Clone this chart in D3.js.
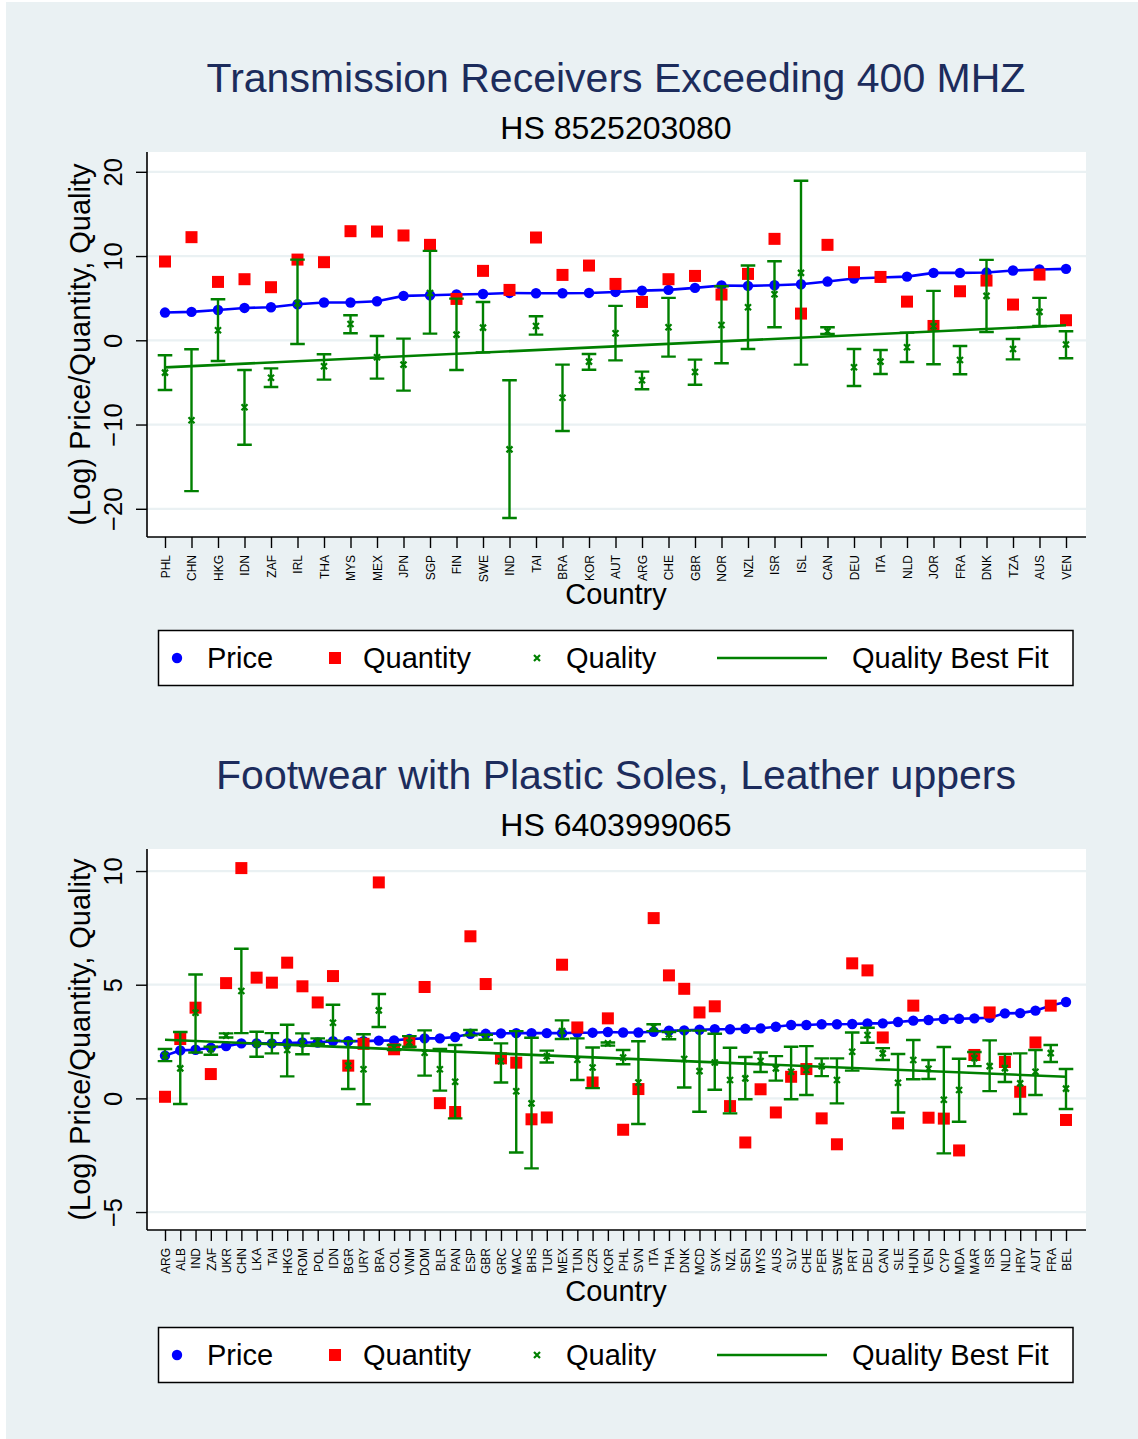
<!DOCTYPE html>
<html lang="en">
<head>
<meta charset="utf-8">
<title>Price, Quantity and Quality by Country</title>
<script src="https://cdnjs.cloudflare.com/ajax/libs/d3/7.8.5/d3.min.js"></script>
<style>
  body { margin: 0; background: #ffffff; }
  svg text { font-family: "Liberation Sans", Arial, sans-serif; }
</style>
</head>
<body>
<div id="chart"></div>
<script>

// ---- data: transmission receivers (HS 8525203080)
const topCountries = ["PHL","CHN","HKG","IDN","ZAF","IRL","THA","MYS","MEX","JPN","SGP","FIN","SWE","IND","TAI","BRA","KOR","AUT","ARG","CHE","GBR","NOR","NZL","ISR","ISL","CAN","DEU","ITA","NLD","JOR","FRA","DNK","TZA","AUS","VEN"];
const topPrice = [3.29,3.37,3.6,3.84,3.92,4.28,4.48,4.48,4.63,5.27,5.35,5.43,5.5,5.62,5.58,5.58,5.62,5.74,5.9,5.98,6.22,6.5,6.46,6.53,6.65,6.97,7.33,7.45,7.56,8.0,8.0,8.04,8.28,8.4,8.48];
const topQuantity = [9.35,12.24,6.93,7.25,6.3,9.58,9.27,12.95,12.91,12.44,11.33,4.91,8.24,5.98,12.2,7.76,8.87,6.69,4.55,7.25,7.64,5.43,7.88,12.04,3.17,11.33,8.08,7.52,4.59,1.7,5.82,7.09,4.24,7.8,2.38];
const topQuality = [-3.84,-9.5,1.19,-7.96,-4.44,4.4,-3.09,1.94,-2.02,-2.89,5.62,0.67,1.5,-12.95,1.7,-6.81,-2.53,0.83,-4.75,1.54,-3.76,1.82,3.92,5.47,8.0,1.07,-3.21,-2.53,-0.83,1.66,-2.34,5.27,-1.03,3.37,-0.51];
const topQualityHi = [-1.78,-1.07,4.87,-3.52,-3.33,9.58,-1.66,2.97,0.51,0.2,10.61,4.95,4.55,-4.75,2.85,-2.89,-1.62,4.08,-3.72,5.03,-2.3,6.42,8.87,9.39,18.93,1.54,-1.03,-1.15,0.91,5.86,-0.67,9.54,0.16,5.03,1.07];
const topQualityLo = [-5.9,-17.9,-2.46,-12.4,-5.54,-0.44,-4.67,0.83,-4.55,-5.98,0.79,-3.52,-1.43,-21.1,0.67,-10.77,-3.49,-2.38,-5.82,-1.94,-5.27,-2.73,-1.03,1.54,-2.89,0.75,-5.43,-4.0,-2.57,-2.85,-4.04,0.99,-2.26,1.7,-2.14];
const topFit = [-3.21, 1.78];
const topTicks = [20, 10, 0, -10, -20];

// ---- data: footwear (HS 6403999065)
const botCountries = ["ARG","ALB","IND","ZAF","UKR","CHN","LKA","TAI","HKG","ROM","POL","IDN","BGR","URY","BRA","COL","VNM","DOM","BLR","PAN","ESP","GBR","GRC","MAC","BHS","TUR","MEX","TUN","CZR","KOR","PHL","SVN","ITA","THA","DNK","MCD","SVK","NZL","SEN","MYS","AUS","SLV","CHE","PER","SWE","PRT","DEU","CAN","SLE","HUN","VEN","CYP","MDA","MAR","ISR","NLD","HRV","AUT","FRA","BEL"];
const botPrice = [1.88,2.11,2.14,2.23,2.3,2.42,2.42,2.42,2.43,2.46,2.46,2.52,2.52,2.52,2.54,2.55,2.61,2.64,2.64,2.7,2.84,2.84,2.86,2.87,2.87,2.87,2.87,2.89,2.89,2.92,2.9,2.9,2.93,2.98,2.99,3.02,3.04,3.04,3.06,3.08,3.15,3.23,3.23,3.26,3.26,3.27,3.3,3.3,3.36,3.42,3.45,3.49,3.5,3.52,3.55,3.74,3.75,3.86,4.09,4.24];
const botQuantity = [0.07,2.61,3.99,1.07,5.07,10.13,5.31,5.09,5.97,4.93,4.22,5.38,1.44,2.4,9.5,2.16,2.46,4.9,-0.21,-0.6,7.13,5.03,1.76,1.57,-0.92,-0.84,5.88,3.12,0.7,3.52,-1.38,0.41,7.93,5.41,4.82,3.78,4.05,-0.34,-1.94,0.4,-0.62,0.95,1.29,-0.88,-2.02,5.94,5.63,2.68,-1.1,4.08,-0.85,-0.89,-2.29,1.91,3.78,1.6,0.29,2.46,4.08,-0.95];
const botQuality = [1.88,1.32,3.77,2.16,2.76,4.72,2.39,2.43,2.13,2.42,2.51,3.33,1.44,1.28,3.87,2.24,2.46,2.01,1.28,0.73,2.89,2.71,1.63,0.31,-0.22,1.85,2.96,1.7,1.36,2.42,1.8,0.7,3.14,2.82,1.73,1.2,1.58,0.81,0.88,1.64,1.32,1.17,1.25,1.41,0.81,2.05,2.79,1.98,0.69,1.69,1.3,-0.06,0.37,1.77,1.42,1.33,0.66,1.17,1.99,0.43];
const botQualityHi = [2.17,2.92,5.45,2.27,2.86,6.58,2.93,2.87,3.24,2.86,2.64,4.12,2.52,2.82,4.59,2.35,2.74,2.99,2.17,2.35,3.01,2.8,2.42,2.96,2.67,2.1,3.43,2.64,2.24,2.46,2.13,2.51,3.26,2.92,2.98,2.98,2.84,2.23,1.82,2.02,1.86,2.27,2.3,1.76,1.76,2.9,3.11,2.21,1.95,2.57,1.69,2.26,1.74,2.04,2.55,1.95,1.98,2.13,2.35,1.29];
const botQualityLo = [1.64,-0.25,2.02,1.92,2.68,2.87,1.83,1.98,0.97,1.94,2.39,2.54,0.41,-0.26,3.14,2.13,2.27,1.0,0.34,-0.88,2.77,2.58,0.7,-2.38,-3.08,1.58,2.61,0.81,0.45,2.32,1.5,-1.13,2.96,2.6,0.48,-0.59,0.38,-0.66,-0.04,1.16,0.78,-0.04,0.15,0.98,-0.22,1.22,2.45,1.69,-0.62,0.84,0.85,-2.42,-1.03,1.42,0.32,0.72,-0.69,0.15,1.6,-0.47];
const botFit = [2.58, 0.95];
const botTicks = [10, 5, 0, -5];

const legendLabels = ["Price", "Quantity", "Quality", "Quality Best Fit"];

// colours
const blue = "#0000ff", red = "#ff0000", green = "#008000";
const bg = "#eaf1f3", navy = "#1c2c5c";

const W = 1138, H = 1439;
const svg = d3.select("#chart").append("svg")
  .attr("width", W).attr("height", H);

svg.append("rect").attr("x", 6).attr("y", 2)
  .attr("width", W - 6).attr("height", H - 2).attr("fill", bg);

const panels = [
  { title: "Transmission Receivers Exceeding 400 MHZ", sub: "HS 8525203080",
    countries: topCountries, price: topPrice, qty: topQuantity, qual: topQuality,
    hi: topQualityHi, lo: topQualityLo, fit: topFit, ticks: topTicks,
    yDomain: [-23.35, 22.35], top: 152, bottom: 537, offset: 0 },
  { title: "Footwear with Plastic Soles, Leather uppers", sub: "HS 6403999065",
    countries: botCountries, price: botPrice, qty: botQuantity, qual: botQuality,
    hi: botQualityHi, lo: botQualityLo, fit: botFit, ticks: botTicks,
    yDomain: [-5.79, 10.97], top: 849, bottom: 1230, offset: 697 }
];

const left = 147, right = 1086;
const fmt = d3.format("d");

panels.forEach(p => {
  const o = p.offset;

  // titles
  svg.append("text").attr("x", 616).attr("y", 92 + o)
    .attr("text-anchor", "middle").attr("font-size", 41).attr("fill", navy)
    .text(p.title);
  svg.append("text").attr("x", 616).attr("y", 139 + o)
    .attr("text-anchor", "middle").attr("font-size", 32).attr("fill", "#000")
    .text(p.sub);

  const x = d3.scalePoint().domain(p.countries).range([left + 18, right - 20]);
  const y = d3.scaleLinear().domain(p.yDomain).range([p.bottom, p.top]);

  // plot region
  svg.append("rect").attr("x", left).attr("y", p.top)
    .attr("width", right - left).attr("height", p.bottom - p.top)
    .attr("fill", "#fff");

  // grid
  svg.append("g").selectAll("line").data(p.ticks).join("line")
    .attr("x1", left).attr("x2", right)
    .attr("y1", d => y(d)).attr("y2", d => y(d))
    .attr("stroke", bg).attr("stroke-width", 2.2);

  // y axis
  const yAxis = svg.append("g").attr("transform", `translate(${left},0)`)
    .call(d3.axisLeft(y).tickValues(p.ticks).tickSize(11).tickFormat(fmt));
  yAxis.select(".domain").attr("d", `M0,${p.top}V${p.bottom}`)
    .attr("stroke", "#000").attr("stroke-width", 1.6);
  yAxis.selectAll(".tick line").attr("stroke", "#000").attr("stroke-width", 1.4);
  yAxis.selectAll(".tick text")
    .attr("font-size", 25.5).attr("fill", "#000")
    .attr("text-anchor", "middle")
    .attr("x", null).attr("dy", null)
    .attr("transform", "translate(-25.5,0) rotate(-90)");

  // x axis
  const xAxis = svg.append("g").attr("transform", `translate(0,${p.bottom})`)
    .call(d3.axisBottom(x).tickSize(11).tickSizeOuter(0));
  xAxis.select(".domain").attr("d", `M${left},0H${right}`)
    .attr("stroke", "#000").attr("stroke-width", 1.6);
  xAxis.selectAll(".tick line").attr("stroke", "#000").attr("stroke-width", 1.4);
  xAxis.selectAll(".tick text")
    .attr("font-size", 12).attr("fill", "#000")
    .attr("text-anchor", "end").attr("y", null).attr("dy", null)
    .attr("transform", "translate(4.3,18) rotate(-90)");

  // axis titles
  svg.append("text")
    .attr("transform", `translate(90,${(p.top + p.bottom) / 2}) rotate(-90)`)
    .attr("text-anchor", "middle").attr("font-size", 29).attr("fill", "#000")
    .text("(Log) Price/Quantity, Quality");
  svg.append("text").attr("x", 616).attr("y", 604 + o)
    .attr("text-anchor", "middle").attr("font-size", 29).attr("fill", "#000")
    .text("Country");

  const idx = d3.range(p.countries.length);
  const cx = i => x(p.countries[i]);

  // price: connected line
  svg.append("path").datum(idx)
    .attr("d", d3.line().x(cx).y(i => y(p.price[i])))
    .attr("fill", "none").attr("stroke", blue).attr("stroke-width", 2.6);
  svg.append("g").selectAll("circle").data(idx).join("circle")
    .attr("cx", cx).attr("cy", i => y(p.price[i])).attr("r", 5.2)
    .attr("fill", blue);

  // quantity
  svg.append("g").selectAll("rect").data(idx).join("rect")
    .attr("x", i => cx(i) - 6).attr("y", i => y(p.qty[i]) - 6)
    .attr("width", 12).attr("height", 12).attr("fill", red);

  // quality error bars
  const bars = svg.append("g").attr("stroke", green).attr("stroke-width", 2.4)
    .attr("fill", "none");
  bars.selectAll("path").data(idx).join("path")
    .attr("d", i => {
      const xx = cx(i), a = y(p.hi[i]), b = y(p.lo[i]);
      return `M${xx - 7.3},${a}H${xx + 7.3}M${xx},${a}V${b}M${xx - 7.3},${b}H${xx + 7.3}`;
    });
  svg.append("g").attr("stroke", green).attr("stroke-width", 2.2)
    .selectAll("path").data(idx).join("path")
    .attr("d", i => {
      const xx = cx(i), yy = y(p.qual[i]);
      return `M${xx - 3},${yy - 3}L${xx + 3},${yy + 3}M${xx - 3},${yy + 3}L${xx + 3},${yy - 3}`;
    });

  // best fit
  const n = p.countries.length;
  svg.append("line")
    .attr("x1", x(p.countries[0])).attr("y1", y(p.fit[0]))
    .attr("x2", x(p.countries[n - 1])).attr("y2", y(p.fit[1]))
    .attr("stroke", green).attr("stroke-width", 2.6);

  // legend
  const lg = svg.append("g").attr("transform", `translate(0,${o})`);
  lg.append("rect").attr("x", 158.5).attr("y", 630.5)
    .attr("width", 914.5).attr("height", 55)
    .attr("fill", "#fff").attr("stroke", "#000").attr("stroke-width", 1.5);
  lg.append("circle").attr("cx", 177).attr("cy", 658).attr("r", 5.2).attr("fill", blue);
  lg.append("rect").attr("x", 329).attr("y", 652).attr("width", 12).attr("height", 12).attr("fill", red);
  lg.append("path").attr("d", "M534,655L540,661M534,661L540,655")
    .attr("stroke", green).attr("stroke-width", 2.2);
  lg.append("line").attr("x1", 717).attr("x2", 827).attr("y1", 658).attr("y2", 658)
    .attr("stroke", green).attr("stroke-width", 2.4);
  const lx = [207, 363, 566, 852];
  lg.selectAll("text.lab").data(legendLabels).join("text")
    .attr("class", "lab")
    .attr("x", (d, i) => lx[i]).attr("y", 668)
    .attr("font-size", 29).attr("fill", "#000")
    .text(d => d);
});

</script>
</body>
</html>
